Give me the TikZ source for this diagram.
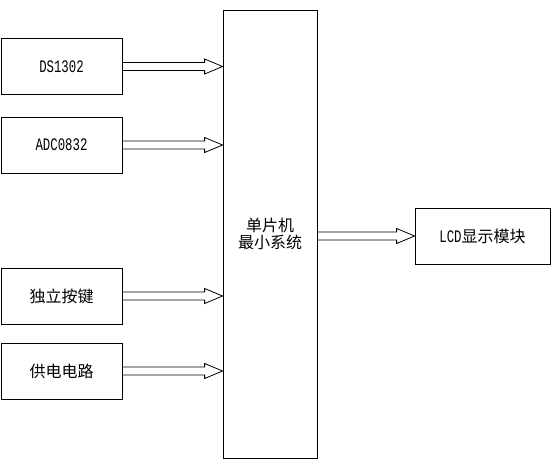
\documentclass[tikz,border=0pt]{standalone}
\usepackage{graphicx}
\usepackage{fontspec}
\setmainfont{Liberation Mono}
\newfontfamily\cjk{Noto Sans CJK SC}
\usetikzlibrary{calc}
\newcommand{\lat}[1]{\scalebox{0.95}[1.35]{#1}}
\tikzset{
  blk/.style={draw, line width=0.8pt, inner sep=0pt, minimum width=121pt, minimum height=56pt, font=\fontsize{13pt}{15pt}\selectfont},
  cjkblk/.style={blk, font=\cjk\fontsize{16pt}{18pt}\selectfont},
  harrow/.style={draw, line width=0.8pt, line join=miter},
}
\newcommand{\hollowarrow}[2]{%
  \draw[harrow] let \p1=(#1.east), \p2=(#2.west) in
    (\x1,\y1+4pt) -- (\x2-18pt,\y1+4pt) -- (\x2-18pt,\y1+7.5pt) -- (\x2,\y1) --
    (\x2-18pt,\y1-7.5pt) -- (\x2-18pt,\y1-4pt) -- (\x1,\y1-4pt);}
\begin{document}
\begin{tikzpicture}[x=1pt,y=-1pt]
\useasboundingbox (0,0) rectangle (554,464);
\node[blk] (ds) at (61.5,66.5) {\lat{DS1302}};
\node[blk] (adc) at (61.5,145) {\lat{ADC0832}};
\node[cjkblk] (key) at (61.5,296) {独立按键};
\node[cjkblk] (pwr) at (61.5,371) {供电电路};
\node[draw, line width=0.8pt, minimum width=94pt, minimum height=448pt, inner sep=0pt,
      align=center, font=\cjk\fontsize{16pt}{17.5pt}\selectfont] (mcu) at (270,234) {单片机\\最小系统};
\node[blk, minimum width=135pt] (lcd) at (482.5,236) {\lat{LCD}{\cjk\fontsize{16pt}{18pt}\selectfont 显示模块}};
\coordinate (mcuL1) at (mcu.west |- ds.east);
\coordinate (mcuL2) at (mcu.west |- adc.east);
\coordinate (mcuL3) at (mcu.west |- key.east);
\coordinate (mcuL4) at (mcu.west |- pwr.east);
\coordinate (mcuR) at (mcu.east |- lcd.west);
\hollowarrow{ds}{mcuL1}
\hollowarrow{adc}{mcuL2}
\hollowarrow{key}{mcuL3}
\hollowarrow{pwr}{mcuL4}
\hollowarrow{mcuR}{lcd}
\end{tikzpicture}
\end{document}
